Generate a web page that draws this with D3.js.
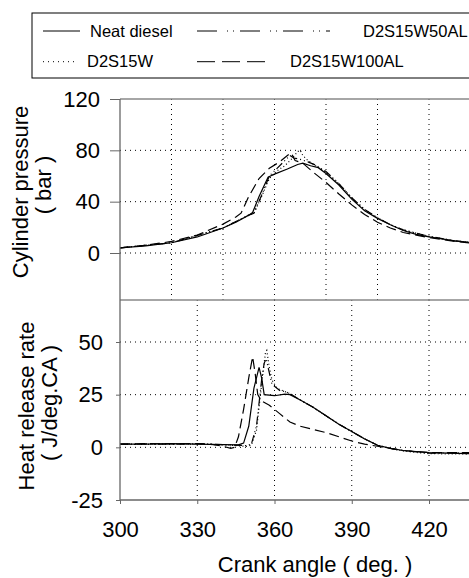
<!DOCTYPE html>
<html>
<head>
<meta charset="utf-8">
<script src="https://cdn.jsdelivr.net/npm/d3@7"></script>
<style>
  body { margin: 0; background: #fff; }
  svg { display: block; font-family: "Liberation Sans", Arial, sans-serif; }
</style>
</head>
<body>
<svg id="chart" width="469" height="578"></svg>
<script>
// series names, in legend order
const seriesNames = ['Neat diesel', 'D2S15W', 'D2S15W50AL', 'D2S15W100AL'];

// cylinder pressure, bar  [crank angle, value]
const pressureNeat = [[300,4],[310,5.5],[320,8],[330,12.5],[340,19.5],[345,24],[350,29.5],[351.5,31.5],[354,44],[357.5,59],[360,61.5],[365,65.5],[369,69],[371,70],[374,68],[377,66.5],[380,62],[385,53],[390,42],[395,33],[400,27],[405,22],[410,17.5],[415,14.5],[420,12.5],[430,9.5],[440,7.5],[450,6]];
const pressureW = [[300,4],[320,8],[340,19.5],[350,29.5],[352,31],[355,44],[358,58],[361,64],[364,68],[367,74],[369,79],[370,80],[371,76],[373,72],[376,68],[380,63],[385,54],[390,43],[395,34],[400,27.5],[405,22],[410,18],[420,13],[430,9.5],[440,7.5],[450,6]];
const pressureW50 = [[300,4],[320,8],[340,19.5],[350,29.5],[352,31],[355,45],[358,60],[361,66],[364,72],[366,76],[367.5,74],[370,73],[373,71],[376,68.5],[380,63.5],[385,54],[390,43],[395,34],[400,27.5],[405,22],[410,18],[420,13],[430,9.5],[440,7.5],[450,6]];
const pressureW100 = [[300,4],[310,6],[320,9],[330,14],[340,22.5],[345,28],[347,31],[350,44],[354,58],[358,66],[362,71],[365,76],[366.5,78],[368,72],[371,70],[375,63],[380,55],[385,46],[390,37.5],[395,30],[400,24],[405,19.5],[410,16],[420,12],[430,9],[440,7],[450,5.5]];

// heat release rate, J/deg.CA  [crank angle, value]
const hrrNeat = [[300,1.5],[310,1.5],[320,1.8],[330,1.5],[340,1.3],[346,1.2],[348,2],[350,10],[352,28],[354,38],[355,33],[356,25],[360,24.5],[364,25.3],[366,25],[370,22.5],[375,19],[380,15],[385,11],[390,7.5],[395,4],[400,1],[405,-0.5],[410,-1.5],[420,-2.5],[435,-3],[450,-3]];
const hrrW = [[300,1.5],[310,1.4],[320,1.7],[330,1.5],[340,1.2],[349,0.5],[351,1],[353,8],[355,30],[356.5,45],[357,46],[358,38],[359,32],[361,28],[363,27],[366,25.5],[370,22.5],[375,19],[380,15],[385,11],[390,7.5],[395,4],[400,1],[405,-0.5],[410,-1.8],[420,-3],[435,-3.2],[450,-3.2]];
const hrrW50 = [[300,1.5],[310,1.6],[320,1.5],[330,1.7],[340,1.3],[349,0.8],[351,1.5],[353,10],[355,32],[356,40],[356.8,42],[357.5,38],[359,30],[362,27],[364,26.5],[366,25.5],[370,22.5],[375,19],[380,15],[385,11],[390,7.5],[395,4],[400,1],[405,-0.5],[410,-1.5],[420,-2.8],[435,-2.5],[450,-3]];
const hrrW100 = [[300,1.5],[310,1.8],[320,1.6],[330,1.8],[335,1.5],[340,0.5],[343,-0.5],[344.5,0],[346,5],[348,18],[350,33],[351.5,43],[352.5,35],[353.5,25],[355,22],[358,20],[362,16],[366,12],[370,10],[375,8.5],[380,7],[385,5],[390,3],[395,1.5],[400,0.5],[405,-0.5],[410,-1.5],[420,-2.5],[435,-2.5],[450,-3]];

const xTicks = [300, 330, 360, 390, 420];
const xGridTop = [320, 340, 360, 380, 400, 420];
const pressureTicks = [0, 40, 80, 120];
const hrrTicks = [-25, 0, 25, 50];

const dashes = ['none', '1,2.5', '8,3,1,3,1,3', '10,5'];
const legendDashes = ['none', '1,4', '20,10,1,5,1,6', '18,7'];

const svg = d3.select('#chart');

const x = d3.scaleLinear().domain([300, 420]).range([120, 429]);
const yP = d3.scaleLinear().domain([0, 120]).range([253, 99]);
const yH = d3.scaleLinear().domain([-25, 50]).range([500, 342]);

const left = 120, right = 520;
const topY = 99, midY = 300, botY = 500;

svg.append('defs').call(defs => {
  defs.append('clipPath').attr('id', 'clipTop')
    .append('rect').attr('x', left).attr('y', topY).attr('width', right - left).attr('height', midY - topY);
  defs.append('clipPath').attr('id', 'clipBot')
    .append('rect').attr('x', left).attr('y', midY).attr('width', right - left).attr('height', botY - midY);
});

// grids
const grid = svg.append('g').attr('stroke', '#000').attr('stroke-width', 1).attr('stroke-dasharray', '1,4');
xGridTop.forEach(v => grid.append('line').attr('x1', x(v)).attr('x2', x(v)).attr('y1', topY).attr('y2', midY));
[0, 40, 80].forEach(v => grid.append('line').attr('x1', left).attr('x2', right).attr('y1', yP(v)).attr('y2', yP(v)));
xTicks.slice(1).forEach(v => grid.append('line').attr('x1', x(v)).attr('x2', x(v)).attr('y1', midY).attr('y2', botY));
[0, 25, 50].forEach(v => grid.append('line').attr('x1', left).attr('x2', right).attr('y1', yH(v)).attr('y2', yH(v)));

// curves
const lineP = d3.line().x(d => x(d[0])).y(d => yP(d[1]));
const lineH = d3.line().x(d => x(d[0])).y(d => yH(d[1]));

const gTop = svg.append('g').attr('clip-path', 'url(#clipTop)');
[pressureNeat, pressureW, pressureW50, pressureW100].forEach((s, i) => {
  gTop.append('path').attr('d', lineP(s)).attr('fill', 'none').attr('stroke', '#000')
    .attr('stroke-width', 1.2).attr('stroke-dasharray', dashes[i]);
});
const gBot = svg.append('g').attr('clip-path', 'url(#clipBot)');
[hrrNeat, hrrW, hrrW50, hrrW100].forEach((s, i) => {
  gBot.append('path').attr('d', lineH(s)).attr('fill', 'none').attr('stroke', '#000')
    .attr('stroke-width', 1.2).attr('stroke-dasharray', dashes[i]);
});

// frame lines
svg.append('line').attr('x1', left).attr('x2', right).attr('y1', topY).attr('y2', topY)
  .attr('stroke', '#888').attr('stroke-width', 1.5);
svg.append('line').attr('x1', left).attr('x2', right).attr('y1', midY).attr('y2', midY)
  .attr('stroke', '#888').attr('stroke-width', 1.5);

// axes
function styleAxis(g) {
  g.select('.domain').attr('stroke', '#666').attr('stroke-width', 1.3);
  g.selectAll('.tick line').attr('stroke', '#666');
  g.selectAll('.tick text').attr('fill', '#000').style('font-size', '22px');
}
const plain = d => String(d);

svg.append('g').attr('transform', `translate(${left},0)`)
  .call(d3.axisLeft(yP).tickValues(pressureTicks).tickFormat(plain).tickSize(10).tickPadding(10).tickSizeOuter(0))
  .call(g => g.select('.domain').attr('d', `M0,${topY}V${midY}`))
  .call(styleAxis);

svg.append('g').attr('transform', `translate(${left},0)`)
  .call(d3.axisLeft(yH).tickValues(hrrTicks).tickFormat(plain).tickSize(4).tickPadding(13).tickSizeOuter(0))
  .call(g => g.select('.domain').attr('d', `M0,${midY}V${botY}`))
  .call(styleAxis);

svg.append('g').attr('transform', `translate(0,${botY})`)
  .call(d3.axisBottom(x).tickValues(xTicks).tickFormat(plain).tickSize(4).tickPadding(17).tickSizeOuter(0))
  .call(g => g.select('.domain').attr('d', `M${left},0H${right}`))
  .call(styleAxis);

// titles
const title = (t, tx, ty, rot) => svg.append('text')
  .attr('transform', `translate(${tx},${ty})` + (rot ? ' rotate(-90)' : ''))
  .attr('text-anchor', 'middle').style('font-size', '22px').text(t);
title('Cylinder pressure', 27.5, 192, true);
title('( bar )', 50.5, 185, true);
title('Heat release rate', 34, 406, true);
title('( J/deg.CA )', 57, 403, true);
title('Crank angle ( deg. )', 315, 572, false);

// legend
const legend = svg.append('g');
legend.append('rect').attr('x', 32).attr('y', 13).attr('width', 480).attr('height', 65)
  .attr('fill', '#fff').attr('stroke', '#000').attr('stroke-width', 1);
const legendItems = [
  { sx1: 43, sx2: 80, ty: 36.7, ly: 31, tx: 90 },
  { sx1: 43, sx2: 78, ty: 66.7, ly: 61.7, tx: 87 },
  { sx1: 197, sx2: 330, ty: 36.7, ly: 31, tx: 363 },
  { sx1: 197, sx2: 267, ty: 66.7, ly: 61.7, tx: 290 }
];
seriesNames.forEach((name, i) => {
  const it = legendItems[i];
  legend.append('line').attr('x1', it.sx1).attr('x2', it.sx2).attr('y1', it.ly).attr('y2', it.ly)
    .attr('stroke', '#000').attr('stroke-width', 1).attr('stroke-dasharray', legendDashes[i]);
  legend.append('text').attr('x', it.tx).attr('y', it.ty).style('font-size', '16.5px').text(name);
});
</script>
</body>
</html>
